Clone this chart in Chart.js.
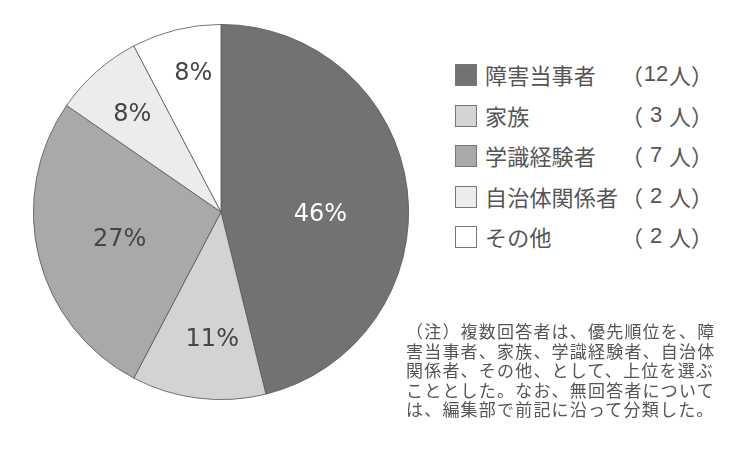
<!DOCTYPE html>
<html lang="ja">
<head>
<meta charset="utf-8">
<script src="https://cdn.jsdelivr.net/npm/chart.js@4/dist/chart.umd.min.js"></script>
<style>
  body { margin: 0; background: #fff; }
  #wrap { position: relative; width: 740px; height: 460px; overflow: hidden; background: #fff; }
  #pieBox { position: absolute; left: 33px; top: 24px; width: 376px; height: 376px; }
  #legend { position: absolute; left: 455px; top: 64px; font-family: "Noto Sans CJK JP", sans-serif; color: #555; font-size: 22px; }
  .row { position: relative; height: 40.5px; width: 260px; }
  .box { position: absolute; left: 0; top: 0; width: 22px; height: 22px; border: 1px solid #777; box-sizing: border-box; }
  .name { position: absolute; left: 30px; top: -5px; line-height: 30px; letter-spacing: 0.2px; }
  .cnt { position: absolute; left: 166px; top: -5px; line-height: 30px; display: flex; }
  .cnt .n { display: inline-block; width: 26px; text-align: center; font-family: "Liberation Sans", sans-serif; }
  #note { position: absolute; left: 406px; top: 321px; width: 320px; font-family: "Noto Sans CJK JP", sans-serif; font-size: 17px; line-height: 19.5px; color: #555; letter-spacing: 1.2px; }
</style>
</head>
<body>
<div id="wrap">
  <div id="pieBox"><canvas id="pie"></canvas></div>
  <div id="legend"></div>
  <div id="note">（注）複数回答者は、優先順位を、障害当事者、家族、学識経験者、自治体関係者、その他、として、上位を選ぶこととした。なお、無回答者については、編集部で前記に沿って分類した。</div>
</div>
<script>
// data
const categories = ['障害当事者', '家族', '学識経験者', '自治体関係者', 'その他'];
const counts = [12, 3, 7, 2, 2];
const percentLabels = ['46%', '11%', '27%', '8%', '8%'];
const colors = ['#727272', '#d3d3d3', '#a9a9a9', '#ececec', '#ffffff'];

// legend
const legend = document.getElementById('legend');
categories.forEach((c, i) => {
    const row = document.createElement('div');
    row.className = 'row';
    row.innerHTML = '<span class="box" style="background:' + colors[i] + '"></span>' +
        '<span class="name">' + c + '</span>' +
        '<span class="cnt"><span>（</span><span class="n">' + counts[i] + '</span><span>人）</span></span>';
    legend.appendChild(row);
});

// labels inside slices: [radius fraction, angle shift in degrees]
const labelPlugin = {
    id: 'sliceLabels',
    afterDatasetsDraw(chart, args, opts) {
        const ctx = chart.ctx;
        const meta = chart.getDatasetMeta(0);
        ctx.save();
        ctx.font = '24px "DejaVu Sans", sans-serif';
        ctx.textAlign = 'center';
        ctx.textBaseline = 'middle';
        meta.data.forEach((arc, i) => {
            const p = opts.place[i];
            const mid = (arc.startAngle + arc.endAngle) / 2 + p[1] * Math.PI / 180;
            const r = arc.outerRadius * p[0];
            ctx.fillStyle = i === 0 ? '#ffffff' : '#454545';
            ctx.fillText(percentLabels[i], arc.x + Math.cos(mid) * r, arc.y + Math.sin(mid) * r);
        });
        ctx.restore();
    }
};

new Chart(document.getElementById('pie'), {
    type: 'pie',
    data: {
        labels: categories,
        datasets: [{
            data: counts,
            backgroundColor: colors,
            borderColor: '#555',
            borderWidth: 0.8
        }]
    },
    options: {
        responsive: true,
        maintainAspectRatio: false,
        animation: false,
        layout: { padding: 0 },
        plugins: {
            legend: { display: false },
            tooltip: { enabled: false },
            sliceLabels: { place: [[0.53, 8.7], [0.68, -3], [0.56, -1.5], [0.70, -1], [0.75, 2.5]] }
        }
    },
    plugins: [labelPlugin]
});
</script>
</body>
</html>
